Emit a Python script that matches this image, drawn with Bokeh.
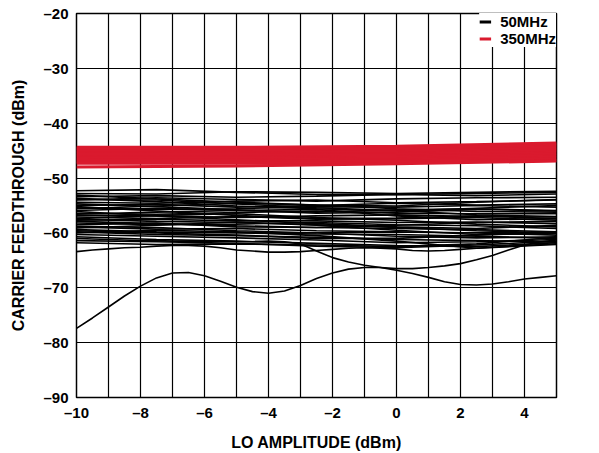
import math
from bokeh.plotting import figure
from bokeh.models import Range1d, FixedTicker, Legend, LegendItem, Label
from bokeh.embed import file_html
from bokeh.resources import INLINE

# ---------------- data ----------------
x_tick_values = list(range(-10, 6))
x_tick_labels = {v: ("" if v % 2 else ("0" if v == 0 else ("–%d" % -v if v < 0 else str(v)))) for v in x_tick_values}
y_tick_values = [-90, -80, -70, -60, -50, -40, -30, -20]
y_tick_labels = {v: "–%d" % -v for v in y_tick_values}

# black (50MHz) curves sampled every 2.5 dB
x_band = [-10, -7.5, -5, -2.5, 0, 2.5, 5]
band_50 = [
    [-52.3, -52.1, -52.6, -53.0, -53.0, -52.8, -52.6],
    [-52.8, -52.9, -52.5, -52.6, -52.8, -52.6, -52.4],
    [-53.4, -53.2, -53.5, -53.3, -53.0, -53.2, -52.9],
    [-54.0, -53.6, -53.9, -54.2, -53.8, -53.6, -53.5],
    [-54.4, -54.6, -54.2, -54.0, -54.5, -54.3, -54.0],
    [-55.0, -54.8, -55.3, -55.0, -54.6, -54.9, -54.7],
    [-55.4, -55.7, -55.6, -55.2, -55.3, -55.0, -55.3],
    [-55.9, -55.5, -55.9, -56.2, -55.8, -55.6, -55.9],
    [-56.4, -56.6, -56.3, -56.0, -56.4, -56.5, -56.5],
    [-56.8, -56.9, -57.2, -56.9, -56.7, -57.0, -57.1],
    [-57.1, -57.4, -57.0, -57.5, -57.4, -57.2, -57.7],
    [-57.7, -57.5, -57.8, -57.8, -58.1, -58.0, -58.3],
    [-58.2, -58.5, -58.4, -58.1, -58.5, -58.7, -59.2],
    [-58.5, -58.2, -58.9, -59.0, -59.2, -59.4, -59.8],
    [-58.9, -59.3, -59.2, -59.6, -59.8, -60.0, -60.4],
    [-59.4, -59.8, -60.0, -60.2, -60.3, -60.6, -61.0],
    [-59.8, -60.3, -60.5, -60.8, -61.2, -61.4, -61.7],
    [-60.3, -60.6, -60.9, -61.3, -61.8, -61.6, -61.2],
    [-60.7, -61.2, -61.5, -61.9, -62.3, -62.5, -61.8],
    [-61.4, -61.6, -61.9, -62.4, -62.7, -62.2, -61.5],
    [-61.8, -62.1, -62.0, -62.2, -62.5, -62.0, -60.8],
    [-53.7, -54.3, -55.1, -55.6, -56.0, -55.5, -55.0],
    [-55.6, -55.1, -54.6, -54.9, -55.6, -56.1, -56.2],
    [-57.4, -56.8, -56.5, -57.2, -57.7, -58.4, -58.9],
    [-56.1, -56.9, -57.6, -58.3, -58.9, -59.2, -58.6],
    [-59.1, -58.6, -58.0, -58.6, -59.5, -60.3, -60.1],
    [-60.0, -59.5, -59.8, -60.5, -61.5, -62.8, -62.1],
    [-53.1, -53.8, -54.4, -54.9, -55.1, -54.4, -53.9],
    [-54.7, -55.2, -55.8, -56.4, -56.2, -55.7, -56.0],
    [-56.6, -56.2, -55.9, -55.7, -56.9, -57.6, -57.4],
    [-57.9, -58.3, -58.7, -59.0, -58.6, -58.1, -57.9],
    [-58.8, -59.0, -59.6, -60.0, -60.6, -60.9, -60.7],
    [-59.6, -60.0, -60.4, -61.0, -61.0, -60.4, -59.9],
    [-55.2, -56.0, -56.8, -57.4, -57.3, -56.9, -57.4],
    [-57.5, -57.9, -58.1, -58.5, -59.0, -59.6, -60.0],
    [-53.9, -54.0, -54.7, -55.4, -55.9, -56.7, -57.0],
]

# black outlier curves sampled every 0.5 dB
x_fine = [-10, -9.5, -9, -8.5, -8, -7.5, -7, -6.5, -6, -5.5, -5, -4.5, -4, -3.5, -3, -2.5,
          -2, -1.5, -1, -0.5, 0, 0.5, 1, 1.5, 2, 2.5, 3, 3.5, 4, 4.5, 5]
outlier_a = [-77.4, -75.5, -73.5, -71.5, -69.7, -68.2, -67.3, -67.2, -67.8, -68.8, -69.9, -70.7,
             -71.0, -70.6, -69.6, -68.3, -67.3, -66.6, -66.3, -66.3, -66.5, -66.5, -66.3, -66.0,
             -65.6, -64.9, -64.1, -63.1, -62.2, -61.6, -61.3]
outlier_b = [-61.0, -61.1, -61.2, -61.3, -61.4, -61.4, -61.5, -61.5, -61.5, -61.5, -61.6, -61.6,
             -61.5, -61.6, -62.0, -63.3, -64.5, -65.3, -65.9, -66.3, -66.8, -67.4, -68.1, -68.9,
             -69.4, -69.5, -69.3, -68.9, -68.4, -68.1, -67.8]
outlier_c = [-63.4, -63.1, -62.9, -62.7, -62.6, -62.4, -62.3, -62.3, -62.4, -62.7, -63.1, -63.3,
             -63.5, -63.5, -63.4, -63.2, -63.0, -62.8, -62.7, -62.8, -62.9, -63.2, -63.3, -63.2,
             -63.0, -62.8, -62.6, -62.4, -62.3, -62.1, -62.0]

# red (350MHz) curves sampled every 5 dB
x_red = [-10, -5, 0, 5]
band_350 = [
    [-44.4, -44.4, -44.2, -43.6],
    [-44.6, -44.7, -44.5, -43.8],
    [-44.9, -44.9, -44.7, -44.0],
    [-45.1, -45.2, -45.0, -44.3],
    [-45.4, -45.4, -45.2, -44.5],
    [-45.6, -45.7, -45.5, -44.8],
    [-45.9, -45.9, -45.7, -45.0],
    [-46.1, -46.2, -46.0, -45.3],
    [-46.4, -46.4, -46.2, -45.6],
    [-46.6, -46.7, -46.5, -45.9],
    [-46.9, -46.9, -46.7, -46.2],
    [-47.1, -47.1, -46.9, -46.5],
    [-47.3, -47.3, -47.1, -46.8],
    [-48.0, -47.8, -47.4, -46.9],
]

legend_labels = ["50MHz", "350MHz"]
colors = ["#000000", "#DA1A2E"]

# ---------------- figure ----------------
FONT = "Liberation Sans"

p = figure(width=599, height=453, output_backend="svg", toolbar_location=None,
           x_range=Range1d(-10, 5), y_range=Range1d(-90, -20),
           min_border_left=76, min_border_right=43, min_border_top=13, min_border_bottom=56)

p.xaxis.ticker = FixedTicker(ticks=x_tick_values)
p.yaxis.ticker = FixedTicker(ticks=y_tick_values)
p.xaxis.major_label_overrides = x_tick_labels
p.yaxis.major_label_overrides = y_tick_labels

for ax in (p.xaxis[0], p.yaxis[0]):
    ax.major_tick_in = 0
    ax.major_tick_out = 0
    ax.minor_tick_in = 0
    ax.minor_tick_out = 0
    ax.axis_line_color = None
    ax.major_label_text_font = FONT
    ax.major_label_text_font_style = "bold"
    ax.major_label_text_font_size = "15px"
    ax.major_label_text_color = "black"
    ax.axis_label_text_font = FONT
    ax.axis_label_text_font_style = "bold"
    ax.axis_label_text_font_size = "16px"
    ax.axis_label_text_color = "black"

p.xaxis.axis_label = "LO AMPLITUDE (dBm)"
p.yaxis.axis_label = "CARRIER FEEDTHROUGH (dBm)"
p.xaxis.major_label_standoff = 6
p.yaxis.major_label_standoff = 8
p.xaxis.axis_label_standoff = 10
p.yaxis.axis_label_standoff = 13

p.xgrid.grid_line_color = "black"
p.ygrid.grid_line_color = "black"
p.xgrid.grid_line_width = 1.2
p.ygrid.grid_line_width = 1.2
p.xgrid.grid_line_alpha = 1
p.ygrid.grid_line_alpha = 1

p.outline_line_color = "black"
p.outline_line_width = 1.5
p.background_fill_color = "white"
p.border_fill_color = "white"

for ys in band_50:
    p.line(x_band, ys, line_color=colors[0], line_width=1.6)
for ys in (outlier_a, outlier_b, outlier_c):
    p.line(x_fine, ys, line_color=colors[0], line_width=1.6)

for ys in band_350:
    p.line(x_red, ys, line_color=colors[1], line_width=3)

# legend swatch proxies: a single NaN point, so nothing is drawn in the plot
nan = float("nan")
proxy_50 = p.line([nan], [nan], line_color=colors[0], line_width=3)
proxy_350 = p.line([nan], [nan], line_color=colors[1], line_width=3)

legend = Legend(items=[LegendItem(label=legend_labels[0], renderers=[proxy_50]),
                       LegendItem(label=legend_labels[1], renderers=[proxy_350])],
                location="top_right", margin=0, padding=8, spacing=0,
                glyph_width=12, glyph_height=15, label_height=15, label_standoff=9,
                border_line_color=None, background_fill_color="white", background_fill_alpha=1,
                label_text_font=FONT, label_text_font_style="bold", label_text_font_size="15px",
                label_text_color="black")
p.add_layout(legend, "center")

p.add_layout(Label(x=5.875, y=-95.1, text="06118-019", angle=math.pi / 2,
                   text_align="center", text_baseline="middle",
                   text_font=FONT, text_font_size="9.5px", text_color="black"))

open("out.html", "w").write(file_html(p, INLINE))
